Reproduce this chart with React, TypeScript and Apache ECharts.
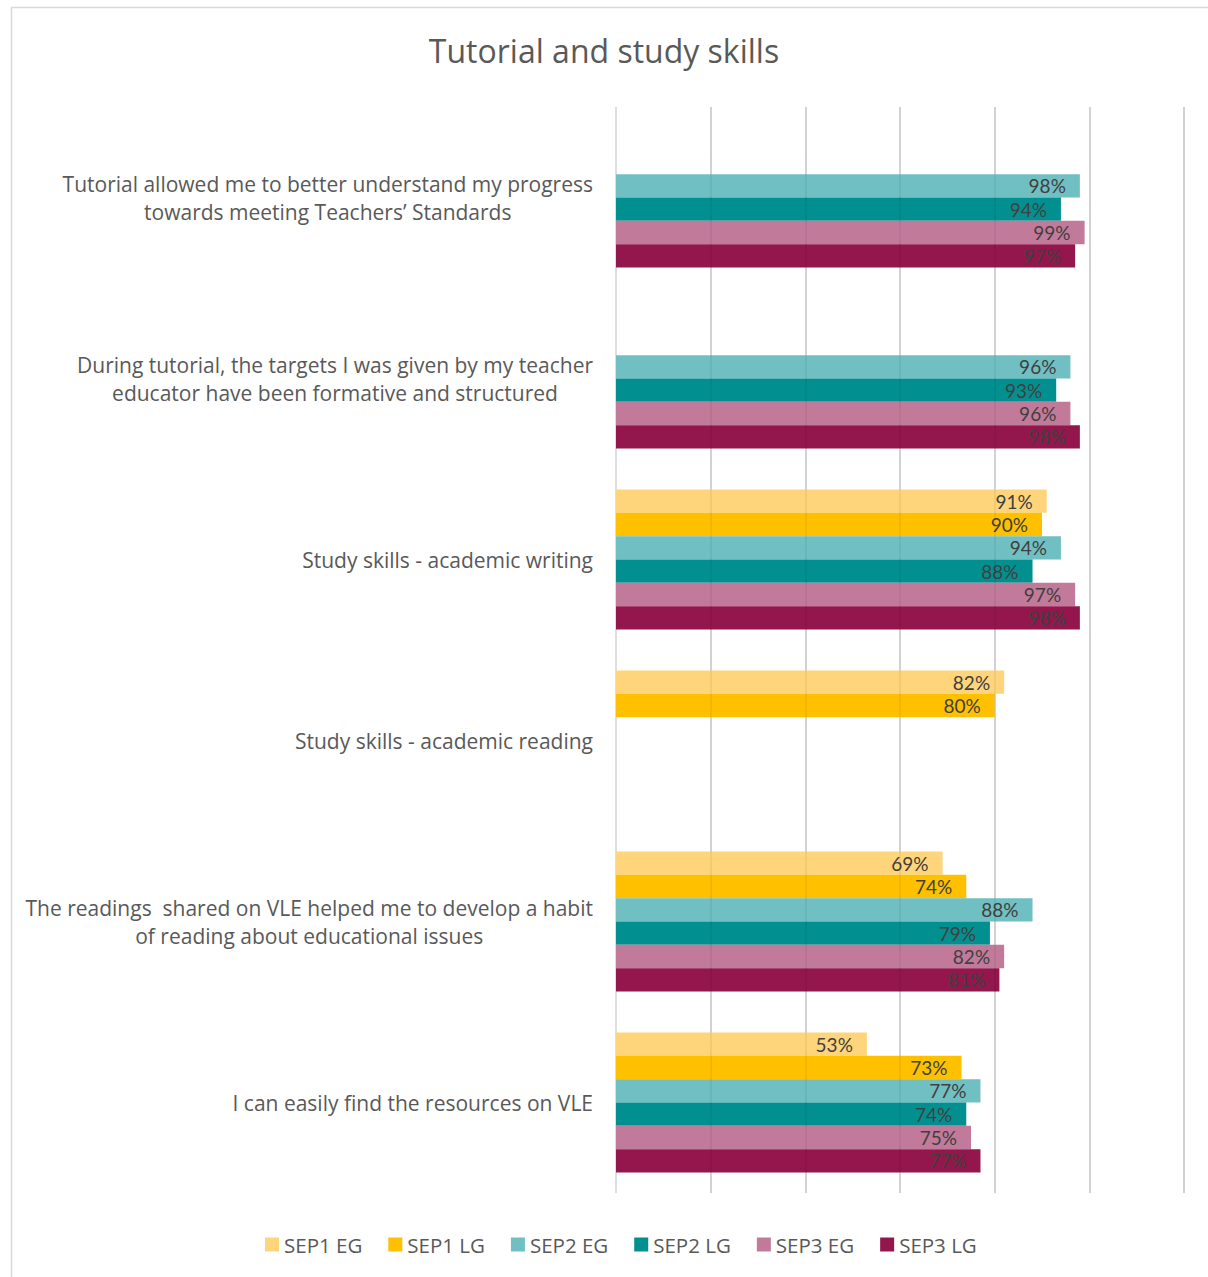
import React, { useEffect, useRef } from "react";
import * as echarts from "echarts";

const categories = [
  "Tutorial allowed me to better understand my progress\ntowards meeting Teachers’ Standards",
  "During tutorial, the targets I was given by my teacher\neducator have been formative and structured",
  "Study skills - academic writing",
  "Study skills - academic reading",
  "The readings  shared on VLE helped me to develop a habit\nof reading about educational issues",
  "I can easily find the resources on VLE",
];

const seriesNames = ["SEP1 EG", "SEP1 LG", "SEP2 EG", "SEP2 LG", "SEP3 EG", "SEP3 LG"];
const seriesColors = ["#FFD57B", "#FFC000", "#70BFC2", "#01908F", "#C27A9A", "#93164C"];

const sep1EG = [null, null, 91, 82, 69, 53];
const sep1LG = [null, null, 90, 80, 74, 73];
const sep2EG = [98, 96, 94, null, 88, 77];
const sep2LG = [94, 93, 88, null, 79, 74];
const sep3EG = [99, 96, 97, null, 82, 75];
const sep3LG = [97, 98, 98, null, 81, 77];

const seriesValues = [sep1EG, sep1LG, sep2EG, sep2LG, sep3EG, sep3LG];
const gridTicks = [20, 40, 60, 80, 100, 120];

const FONT = "'Open Sans', 'Noto Sans', sans-serif";
const LABEL_FONT = "Lato, 'Open Sans', sans-serif";

export default function App() {
  const ref = useRef<HTMLDivElement>(null);
  useEffect(() => {
    if (!ref.current) return;
    const chart = echarts.init(ref.current, undefined, { renderer: "svg" });
    const series: any[] = seriesValues.map((vals, i) => ({
      name: seriesNames[i],
      type: "bar",
      data: vals,
      barGap: "0%",
      barCategoryGap: "22.6%",
      itemStyle: { color: seriesColors[i] },
      label: {
        show: true,
        position: "insideRight",
        distance: 14,
        formatter: (p: any) => (p.value == null ? "" : p.value + "%"),
        color: "#404040",
        fontSize: 19,
        lineHeight: 19,
        fontFamily: LABEL_FONT,
      },
    }));
    series[5].markLine = {
      silent: true,
      symbol: "none",
      label: { show: false },
      lineStyle: { color: "rgba(0,0,0,0.05)", width: 2, type: "solid" },
      data: gridTicks.map((t) => ({ xAxis: t })),
      z: 10,
    };
    chart.setOption({
      animation: false,
      title: {
        text: "Tutorial and study skills",
        left: "center",
        top: 29,
        textStyle: { fontSize: 32, fontWeight: "normal", color: "#595959", fontFamily: FONT },
      },
      legend: {
        bottom: 17,
        left: 260,
        itemWidth: 14,
        itemHeight: 14,
        itemGap: 26,
        icon: "rect",
        textStyle: { fontSize: 20.5, color: "#595959", fontFamily: FONT },
        data: seriesNames,
      },
      grid: { left: 616, right: 24, top: 107, bottom: 84, containLabel: false },
      xAxis: {
        type: "value",
        min: 0,
        max: 120,
        interval: 20,
        axisLabel: { show: false },
        axisLine: { show: false },
        axisTick: { show: false },
        splitLine: { show: true, lineStyle: { color: "#dedede", width: 2 } },
      },
      yAxis: {
        type: "category",
        inverse: true,
        data: categories,
        axisLine: { show: false },
        axisTick: { show: false },
        axisLabel: {
          margin: 23,
          align: "right",
          color: "#595959",
          fontSize: 21,
          fontFamily: FONT,
          lineHeight: 28,
          formatter: (v: string) =>
            v
              .split("\n")
              .map((l) => "{c|" + l + "}")
              .join("\n"),
          rich: {
            c: { align: "center", color: "#595959", fontSize: 21, fontFamily: FONT, lineHeight: 28 },
          },
        },
      },
      graphic: [
        {
          type: "rect",
          shape: { x: 11.5, y: 7.5, width: 1400, height: 1400 },
          style: { fill: "none", stroke: "#d9d9d9", lineWidth: 1.5 },
          silent: true,
          z: -10,
        },
      ],
      series,
    });
    return () => chart.dispose();
  }, []);
  return (
    <div
      ref={ref}
      style={{ position: "absolute", left: 0, top: 0, width: 1208, height: 1277, background: "#fff" }}
    />
  );
}
